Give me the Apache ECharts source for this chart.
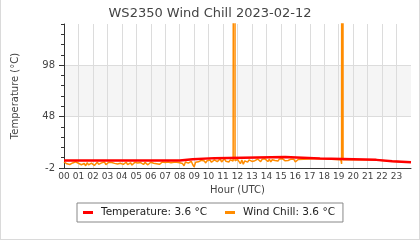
<!DOCTYPE html>
<html><head><meta charset="utf-8">
<script src="https://cdn.jsdelivr.net/npm/echarts@6/dist/echarts.min.js"></script>
<style>
html,body{margin:0;padding:0;background:#fff}
#c{position:absolute;left:0;top:0;width:420px;height:240px;box-sizing:border-box;border-left:1px solid #dadada;border-right:1px solid #dadada;border-bottom:1px solid #dadada;}
</style></head><body><div id="c"></div>
<script>
const titleText = 'WS2350 Wind Chill 2023-02-12';
const hourLabels = ['00','01','02','03','04','05','06','07','08','09','10','11','12','13','14','15','16','17','18','19','20','21','22','23'];
const yTickLabels = [-2, 48, 98];

// Temperature (°C): level changes at these hours
const tempTimes  = [0, 8.0, 8.0, 8.9, 8.9, 10.4, 10.4, 15.3, 15.3, 17.7, 17.7, 21.6, 21.6, 22.7, 22.7, 24];
const tempValues = [5.2, 5.2, 6.5, 6.5, 7.6, 7.6, 8.8, 8.8, 7.3, 7.3, 5.9, 5.9, 4.6, 4.6, 3.6, 3.6];

// Wind chill (°C), sampled every 0.1 h from 00:00 to 16:12
const chillStart = 0;
const chillStep = 0.1;
const chillValues = [
  4.0, 3.2, 2.1, 3.6, 1.4, 0.8, 2.9, 3.8, 4.1, 3.4,
  2.6, 3.9, 1.2, -0.2, 2.4, 0.2, 3.1, 1.0, -0.4, 2.8,
  3.5, 0.5, 2.2, 3.7, 1.6, 0.9, 3.0, 2.1, 3.8, 1.3,
  2.9, 3.6, 2.0, 3.4, 4.0, 2.5, 3.3, 1.8, 3.7, 2.6,
  3.2, 1.5, 2.8, 3.6, 1.2, 2.4, 3.1, 0.9, 2.3, 3.5,
  1.7, 2.9, 1.0, 3.3, 2.1, 1.4, 3.4, 2.5, 1.1, 2.8,
  3.6, 1.9, 2.7, 0.8, 2.2, 3.5, 1.6, 3.0, 3.8, 2.3,
  3.4, 2.6, 3.9, 2.0, 3.2, 1.8, 3.7, 2.9, 3.5, 4.0,
  3.1, 4.6, 2.3, 0.2, 3.8, 4.9, 2.7, 3.9, 4.5, 1.4,
  -1.0, 3.6, 5.2, 4.0, 2.4, 5.5, 3.8, 4.9, 2.9, 5.1,
  4.3, 5.8, 3.6, 2.8, 5.9, 6.5, 4.2, 5.4, 6.8, 3.9,
  5.6, 6.9, 4.5, 6.2, 3.8, 5.9, 6.7, 4.8, 2000, 5.2,
  6.4, 4.6, 2.2, 5.8, 1.6, 4.9, 6.6, 3.7, 5.9, 6.8,
  4.4, 6.3, 5.1, 3.2, 6.7, 5.4, 4.1, 6.5, 5.0, 6.9,
  5.8, 4.3, 6.6, 3.9, 6.0, 7.0, 5.2, 6.4, 4.7, 6.8,
  5.5, 7.1, 6.9, 5.0, 6.4, 5.3, 6.1, 6.6, 5.9, 6.4,
  4.0, 2.5, 6.3
];
// Extra wind chill readings (around the spikes and the rest of the day)
const chillExtraTimes  = [11.77, 11.83, 16.3, 17.6, 17.7, 19.15, 19.2, 19.25, 19.3, 21.5, 21.6, 22.6, 22.7, 24.0];
const chillExtraValues = [5.0, 5.0, 7.3, 7.3, 5.9, 5.9, 2.0, 2000, 5.9, 5.9, 4.6, 4.6, 3.6, 3.6];

const tempData = tempTimes.map((t, i) => [t, tempValues[i]]);
let chillData = chillValues.map((v, i) => [Math.round((chillStart + i * chillStep) * 100) / 100, v]);
chillExtraTimes.forEach((t, i) => chillData.push([t, chillExtraValues[i]]));
chillData.sort((a, b) => a[0] - b[0]);

const lastTemp = tempValues[tempValues.length - 1];
const lastChill = chillExtraValues[chillExtraValues.length - 1];
const currents = { 'Temperature': lastTemp, 'Wind Chill': lastChill };

const chart = echarts.init(document.getElementById('c'), null, { renderer: 'canvas' });
const font = 'DejaVu Sans';
chart.setOption({
  animation: false,
  backgroundColor: '#fff',
  title: {
    text: titleText, left: 'center', top: 2,
    textStyle: { fontFamily: font, fontSize: 13, fontWeight: 'normal', color: '#444' }
  },
  legend: {
    left: 76, top: 203,
    data: ['Temperature', 'Wind Chill'],
    icon: 'rect', itemWidth: 10, itemHeight: 3, itemGap: 18,
    borderColor: '#888', borderWidth: 1, borderRadius: 0,
    padding: [4, 8, 4, 6],
    formatter: name => name + ': ' + currents[name].toFixed(1) + ' °C',
    textStyle: { fontFamily: font, fontSize: 10.5, color: '#222', padding: [0, 0, 0, 3] }
  },
  grid: { left: 63, right: 8, top: 24, bottom: 71, containLabel: false },
  xAxis: {
    type: 'value', min: 0, max: 24, interval: 1,
    name: 'Hour (UTC)', nameLocation: 'middle', nameGap: 13,
    nameTextStyle: { fontFamily: font, fontSize: 10, color: '#444' },
    axisLine: { show: true, onZero: false, lineStyle: { color: '#333', width: 1 } },
    axisTick: { show: false },
    axisLabel: { margin: 4, fontFamily: font, fontSize: 9, color: '#444',
      formatter: v => (hourLabels[v] !== undefined ? hourLabels[v] : '') },
    splitLine: { show: true, showMinLine: false, showMaxLine: false, lineStyle: { color: '#dcdcdc', width: 1 } }
  },
  yAxis: [
    {
      type: 'value', min: -2, max: 138, interval: 50,
      name: 'Temperature (°C)', nameLocation: 'middle', nameGap: 44, nameRotate: 90,
      nameTextStyle: { fontFamily: font, fontSize: 10, color: '#444' },
      axisLine: { show: true, lineStyle: { color: '#333', width: 1 } },
      axisTick: { show: true, length: 5, lineStyle: { color: '#333' } },
      axisLabel: { margin: 9, fontFamily: font, fontSize: 10, color: '#444', showMaxLabel: false,
        formatter: v => (yTickLabels.indexOf(v) >= 0 ? String(v) : '') },
      splitLine: { show: true, showMinLine: false, showMaxLine: false, lineStyle: { color: '#dcdcdc', width: 1 } },
      splitArea: { show: true, areaStyle: { color: ['rgba(255,255,255,0)', '#f5f5f5'] } }
    },
    {
      type: 'value', min: -2, max: 138, interval: 10, position: 'left',
      axisLine: { show: false },
      axisTick: { show: true, length: 3, lineStyle: { color: '#333' } },
      axisLabel: { show: false },
      splitLine: { show: false }
    }
  ],
  series: [
    {
      name: 'Wind Chill', type: 'line', data: chillData, yAxisIndex: 0,
      showSymbol: false, symbol: 'none', z: 2, clip: true,
      lineStyle: { color: '#ff8c00', width: 1.5 }, itemStyle: { color: '#ff8c00' }
    },
    {
      name: 'Temperature', type: 'line', data: tempData, yAxisIndex: 0,
      showSymbol: false, symbol: 'none', z: 3, clip: true,
      lineStyle: { color: '#ff0000', width: 2.5 }, itemStyle: { color: '#ff0000' }
    }
  ]
});
</script></body></html>
